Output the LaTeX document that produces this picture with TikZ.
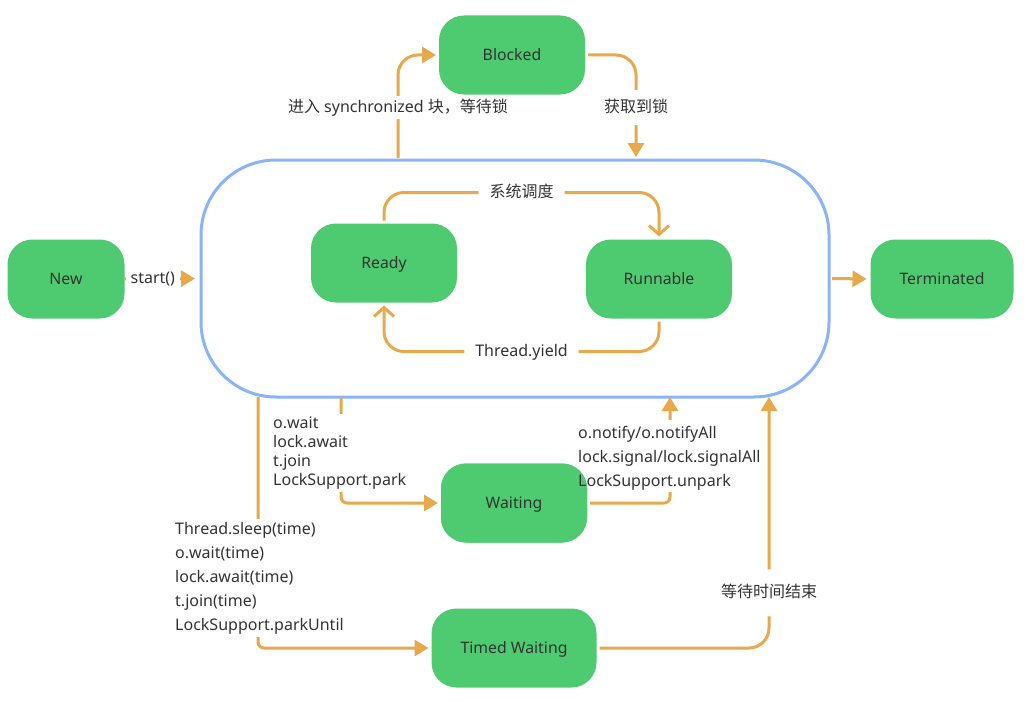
\documentclass[tikz,border=0pt]{standalone}
\usepackage{fontspec}
\setmainfont{Noto Sans}
\newfontfamily\cjk{Noto Sans CJK SC}
\usetikzlibrary{arrows.meta}
\definecolor{stgreen}{HTML}{4ECB71}
\definecolor{arrorange}{HTML}{E8A84C}
\definecolor{boxblue}{HTML}{8AB4F8}
\definecolor{txt}{HTML}{333333}
\begin{document}
\begin{tikzpicture}[x=1pt, y=-1pt,
  state/.style={fill=stgreen, text=txt, rounded corners=25pt, minimum height=79pt, inner sep=0pt, outer sep=0pt, text height=11.5pt, text depth=0pt, font=\fontsize{15.8}{18}\selectfont},
  arr/.style={draw=arrorange, line width=3pt, -{Triangle[length=14pt,width=16pt]}},
  barb/.style={draw=arrorange, line width=3pt, -{Straight Barb[length=9pt,width=20pt]}},
  lbl/.style={fill=white, text=txt, inner sep=3pt, font=\fontsize{16}{19}\selectfont},
  edgelbl/.style={lbl, text height=12pt, text depth=3pt, inner xsep=11pt, inner ysep=10pt}]
\useasboundingbox (0,0) rectangle (1024,701);
\node[draw=boxblue, line width=3pt, rounded corners=75pt, minimum width=628pt, minimum height=237pt, inner sep=0pt, outer sep=0pt] (alive) at (515,278.5) {};
\node[state, minimum width=117pt] (new) at (66,279) {New};
\node[state, minimum width=146pt] (blocked) at (512,55) {Blocked};
\node[state, minimum width=146pt] (ready) at (384,263) {Ready};
\node[state, minimum width=146pt] (runnable) at (659,279) {Runnable};
\node[state, minimum width=143pt] (terminated) at (942,279) {Terminated};
\node[state, minimum width=146pt] (waiting) at (514,503) {Waiting};
\node[state, minimum width=165pt] (timed) at (514,648) {Timed Waiting};
\draw[arr, shorten >=6pt] (new.east) -- (alive.west) node[lbl, inner xsep=5pt, pos=0.37] {start()};
\draw[arr, shorten <=2pt, shorten >=3pt, rounded corners=20pt] (alive.north -| 398,0) |- (blocked.west) node[edgelbl, inner ysep=4pt, pos=0.25] {{\cjk 进入} synchronized {\cjk 块，等待锁}};
\draw[arr, shorten <=3pt, shorten >=3pt, rounded corners=20pt] (blocked.east) -| (alive.north -| 636,0) node[edgelbl, pos=0.75] {\cjk 获取到锁};
\draw[barb, shorten <=3pt, shorten >=3pt, rounded corners=20pt] (ready.north) -- ++(0,-31) -| (runnable.north) node[edgelbl, pos=0.25] {\cjk 系统调度};
\draw[barb, shorten <=3pt, shorten >=3pt, rounded corners=20pt] (runnable.south) -- ++(0,33) -| (ready.south) node[edgelbl, pos=0.25] {Thread.yield};
\draw[arr, shorten <=3pt, shorten >=4pt] (alive.east) -- (terminated.west);
\draw[arr, shorten >=3pt, rounded corners=6pt] (alive.south -| 341,0) |- (waiting.west);
\draw[arr, shorten >=3pt, rounded corners=6pt] (alive.south -| 258,0) |- (timed.west);
\draw[arr, shorten <=3pt, rounded corners=6pt] (waiting.east) -| (alive.south -| 670,0);
\draw[arr, shorten <=3pt, rounded corners=20pt] (timed.east) -| (alive.south -| 769,0) node[edgelbl, inner ysep=16pt, pos=0.61] {\cjk 等待时间结束};
\node[lbl, anchor=west, align=left, font=\fontsize{16}{19}\selectfont] (waitlbl) at (270,453) {o.wait\\lock.await\\t.join\\LockSupport.park};
\node[lbl, anchor=west, align=left, font=\fontsize{16}{24}\selectfont] (timedlbl) at (172,578) {Thread.sleep(time)\\o.wait(time)\\lock.await(time)\\t.join(time)\\LockSupport.parkUntil};
\fill[white] (600,420) rectangle (765,492);
\node[state, minimum width=146pt] at (waiting) {Waiting};
\node[text=txt, inner sep=3pt, anchor=west, align=left, font=\fontsize{16}{24}\selectfont] (notifylbl) at (575,458) {o.notify/o.notifyAll\\lock.signal/lock.signalAll\\LockSupport.unpark};
\end{tikzpicture}
\end{document}
